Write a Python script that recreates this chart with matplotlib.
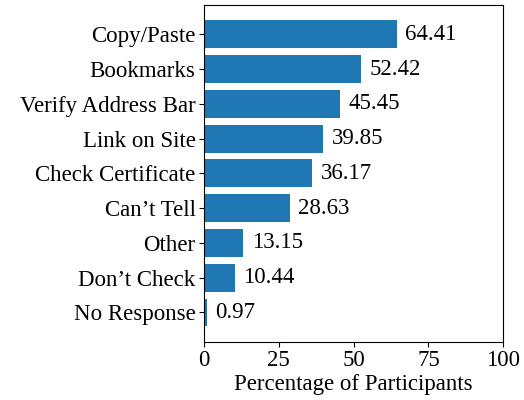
import matplotlib
matplotlib.use("Agg")
import matplotlib.pyplot as plt

# categories, top to bottom as drawn
categories = ["Copy/Paste", "Bookmarks", "Verify Address Bar", "Link on Site",
              "Check Certificate", "Can\u2019t Tell", "Other", "Don\u2019t Check",
              "No Response"]
percentages = [64.41, 52.42, 45.45, 39.85, 36.17, 28.63, 13.15, 10.44, 0.97]
x_ticks = [0, 25, 50, 75, 100]

plt.rcParams['font.family'] = ['Liberation Serif', 'DejaVu Serif']
plt.rcParams['font.size'] = 16.5

fig = plt.figure(figsize=(5.24, 4.0), dpi=100)
ax = fig.add_axes([0.389, 0.146, 0.5715, 0.841])

# barh draws from bottom up, so reverse
bars = ax.barh(categories[::-1], percentages[::-1], color='#1f77b4', height=0.8)
ax.bar_label(bars, fmt='%.2f', padding=6)

ax.set_xlim(0, 100)
ax.set_xticks(x_ticks)
ax.tick_params(axis='both', pad=2.5)
ax.set_xlabel("Percentage of Participants", labelpad=2)

fig.savefig("out.png", dpi=100)
